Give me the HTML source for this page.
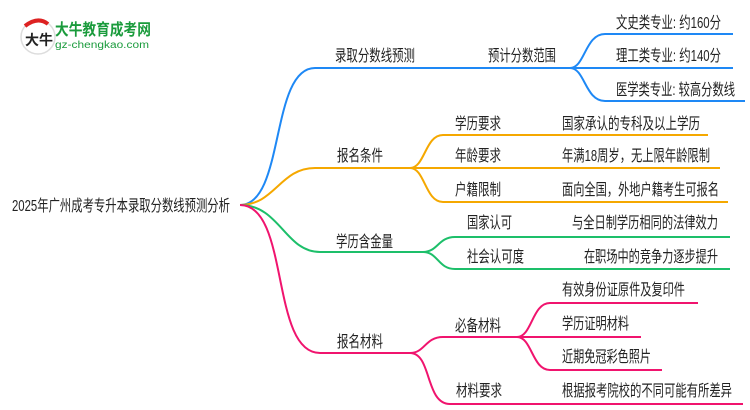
<!DOCTYPE html>
<html><head><meta charset="utf-8"><style>
html,body{margin:0;padding:0;background:#fff;}
svg{display:block;}
text{font-family:"Liberation Sans","Noto Sans CJK SC",sans-serif;font-size:16px;fill:#222;}
</style></head><body>
<svg width="750" height="410" viewBox="0 0 750 410" xmlns="http://www.w3.org/2000/svg">
<g fill="none" stroke-width="2">
<path d="M240 205 C 285 205, 270 68, 315 68 L 570 68" stroke="#1e88f5"/>
<path d="M570 68 C 585 68, 585 34, 605 34 L 733 34" stroke="#1e88f5"/>
<path d="M570 68 L 733 68" stroke="#1e88f5"/>
<path d="M570 68 C 585 68, 585 101, 605 101 L 745 101" stroke="#1e88f5"/>
<path d="M240 205 C 275 205, 280 168, 315 168 L 410 168" stroke="#f5a800"/>
<path d="M410 168 C 425 168, 425 135, 443 135 L 708 135" stroke="#f5a800"/>
<path d="M410 168 L 720 168" stroke="#f5a800"/>
<path d="M410 168 C 425 168, 425 202, 443 202 L 728 202" stroke="#f5a800"/>
<path d="M240 205 C 280 205, 285 252, 320 252 L 423 252" stroke="#1dbf6a"/>
<path d="M423 252 C 438 252, 438 237, 455 237 L 730 237" stroke="#1dbf6a"/>
<path d="M423 252 C 438 252, 438 269, 455 269 L 730 269" stroke="#1dbf6a"/>
<path d="M240 205 C 290 205, 270 353, 320 353 L 410 353" stroke="#f0146e"/>
<path d="M410 353 C 425 353, 425 337, 443 337 L 517 337" stroke="#f0146e"/>
<path d="M410 353 C 432 353, 425 404, 450 404 L 743 404" stroke="#f0146e"/>
<path d="M517 337 C 532 337, 532 303, 550 303 L 698 303" stroke="#f0146e"/>
<path d="M517 337 C 532 337, 532 370, 550 370 L 662 370" stroke="#f0146e"/>
<path d="M517 337 L 641 337" stroke="#f0146e"/>
</g>
<circle cx="38" cy="37" r="17" fill="#fff" stroke="#ddd" stroke-width="1.5"/>
<path d="M25 26 Q38 16 48 24" stroke="#d22" stroke-width="4" fill="none"/>
<text x="25" y="45" style="font-size:14px;font-weight:bold;fill:#222">大牛</text>
<text x="55" y="35" textLength="96" lengthAdjust="spacingAndGlyphs" style="font-size:16px;font-weight:bold;fill:#1a9b3c">大牛教育成考网</text>
<text x="55" y="48" textLength="94" lengthAdjust="spacingAndGlyphs" style="font-size:10px;fill:#1a9b3c">gz-chengkao.com</text>
<text x="12" y="211" textLength="218" lengthAdjust="spacingAndGlyphs">2025年广州成考专升本录取分数线预测分析</text>
<text x="335" y="61" textLength="80" lengthAdjust="spacingAndGlyphs">录取分数线预测</text>
<text x="337" y="161" textLength="46" lengthAdjust="spacingAndGlyphs">报名条件</text>
<text x="336" y="247" textLength="57" lengthAdjust="spacingAndGlyphs">学历含金量</text>
<text x="337" y="347" textLength="46" lengthAdjust="spacingAndGlyphs">报名材料</text>
<text x="488" y="61" textLength="68" lengthAdjust="spacingAndGlyphs">预计分数范围</text>
<text x="455" y="129" textLength="46" lengthAdjust="spacingAndGlyphs">学历要求</text>
<text x="455" y="161" textLength="46" lengthAdjust="spacingAndGlyphs">年龄要求</text>
<text x="455" y="195" textLength="46" lengthAdjust="spacingAndGlyphs">户籍限制</text>
<text x="467" y="228" textLength="45" lengthAdjust="spacingAndGlyphs">国家认可</text>
<text x="467" y="262" textLength="57" lengthAdjust="spacingAndGlyphs">社会认可度</text>
<text x="455" y="331" textLength="46" lengthAdjust="spacingAndGlyphs">必备材料</text>
<text x="456" y="396" textLength="46" lengthAdjust="spacingAndGlyphs">材料要求</text>
<text x="616" y="28" textLength="105" lengthAdjust="spacingAndGlyphs">文史类专业: 约160分</text>
<text x="616" y="61" textLength="105" lengthAdjust="spacingAndGlyphs">理工类专业: 约140分</text>
<text x="616" y="95" textLength="119" lengthAdjust="spacingAndGlyphs">医学类专业: 较高分数线</text>
<text x="562" y="129" textLength="138" lengthAdjust="spacingAndGlyphs">国家承认的专科及以上学历</text>
<text x="562" y="161" textLength="148" lengthAdjust="spacingAndGlyphs">年满18周岁，无上限年龄限制</text>
<text x="562" y="195" textLength="157" lengthAdjust="spacingAndGlyphs">面向全国，外地户籍考生可报名</text>
<text x="572" y="228" textLength="146" lengthAdjust="spacingAndGlyphs">与全日制学历相同的法律效力</text>
<text x="584" y="262" textLength="134" lengthAdjust="spacingAndGlyphs">在职场中的竞争力逐步提升</text>
<text x="562" y="295" textLength="123" lengthAdjust="spacingAndGlyphs">有效身份证原件及复印件</text>
<text x="562" y="329" textLength="67" lengthAdjust="spacingAndGlyphs">学历证明材料</text>
<text x="562" y="362" textLength="89" lengthAdjust="spacingAndGlyphs">近期免冠彩色照片</text>
<text x="562" y="396" textLength="170" lengthAdjust="spacingAndGlyphs">根据报考院校的不同可能有所差异</text>
</svg>
</body></html>
